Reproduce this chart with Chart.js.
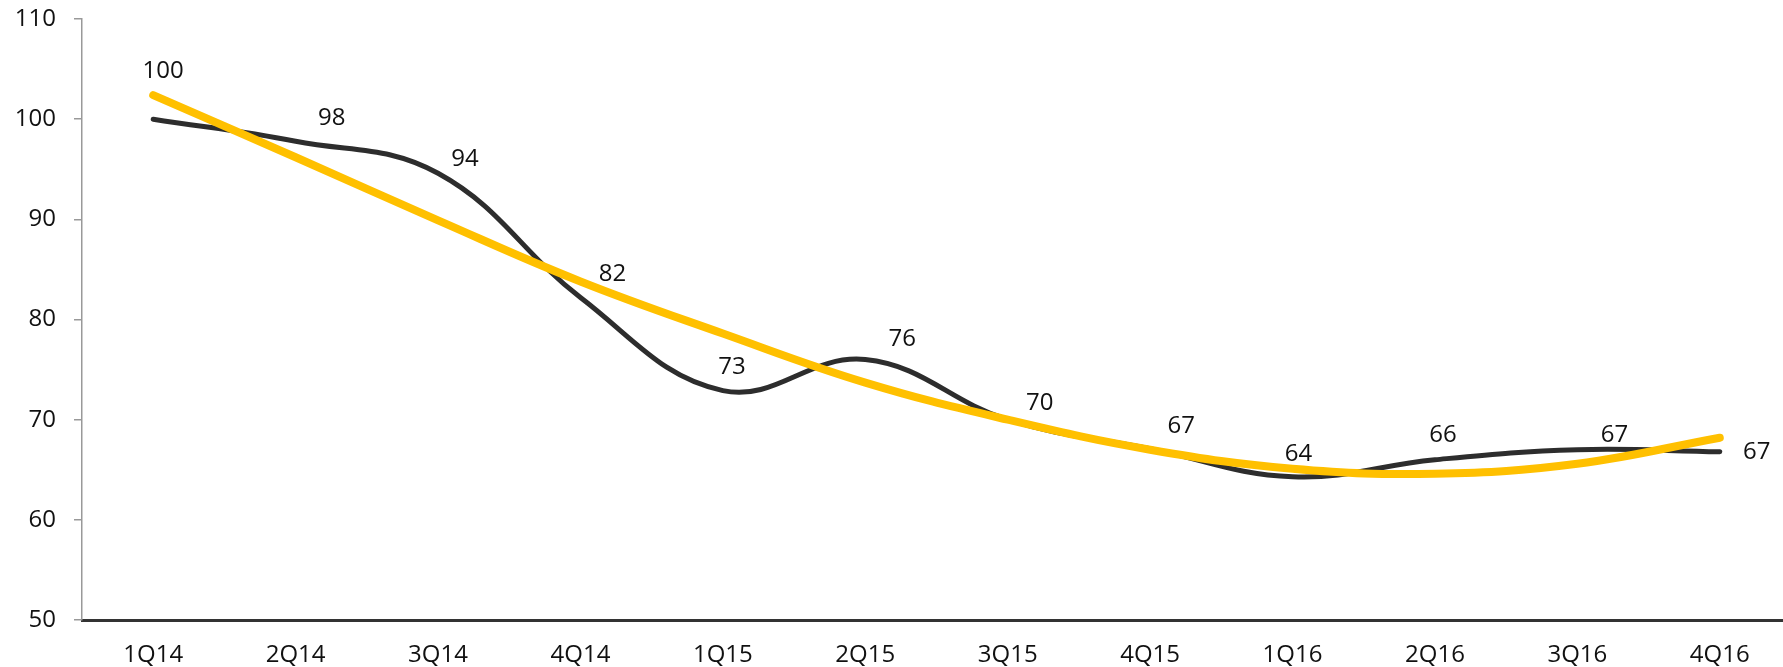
<!DOCTYPE html>
<html>
<head>
<meta charset="utf-8">
<script src="https://cdn.jsdelivr.net/npm/chart.js@4/dist/chart.umd.min.js"></script>
<style>
  html, body { margin:0; padding:0; background:#fff; overflow:hidden; }
  #wrap { width:1791px; height:667px; position:relative; }
</style>
</head>
<body>
<div id="wrap"><canvas id="chart"></canvas></div>
<script>
// Quarters on the x axis
const quarters = ['1Q14','2Q14','3Q14','4Q14','1Q15','2Q15','3Q15','4Q15','1Q16','2Q16','3Q16','4Q16'];

// Index (black line)
const indexValues = [100, 97.8, 94.6, 82.2, 72.9, 76.0, 70.0, 67.1, 64.3, 66.0, 67.0, 66.8];

// Trend (yellow line)
const trendValues = [102.4, 96.2, 89.9, 83.8, 78.6, 73.7, 70.0, 67.0, 65.1, 64.6, 65.6, 68.2];

// Labels shown above the black line
const indexLabels = ['100','98','94','82','73','76','70','67','64','66','67','67'];

const yTicks = [50, 60, 70, 80, 90, 100, 110];

// label offsets from each point (px)
const labelOffsets = [[10,-48],[36,-23],[27,-14],[32,-23],[9,-23],[37,-20],[32,-17],[31,-23],[6,-23],[8,-25],[37,-15],[37,0]];

const FONT = "'Open Sans', 'DejaVu Sans', sans-serif";

const pointLabels = {
    id: 'pointLabels',
    afterDatasetsDraw(chart) {
        const meta = chart.getDatasetMeta(1);
        const ctx = chart.ctx;
        ctx.save();
        ctx.font = '24px ' + FONT;
        ctx.fillStyle = '#111';
        ctx.textAlign = 'center';
        ctx.textBaseline = 'middle';
        meta.data.forEach((pt, i) => {
            const off = labelOffsets[i];
            ctx.fillText(indexLabels[i], pt.x + off[0], pt.y + off[1]);
        });
        ctx.restore();
    }
};

new Chart(document.getElementById('chart'), {
    type: 'line',
    data: {
        labels: quarters,
        datasets: [
            {
                label: 'Trend',
                data: trendValues,
                borderColor: '#FFC000',
                borderWidth: 8,
                borderCapStyle: 'round',
                pointRadius: 0,
                tension: 0.4,
                order: 0
            },
            {
                label: 'Index',
                data: indexValues,
                borderColor: '#2d2d2d',
                borderWidth: 5,
                borderCapStyle: 'round',
                pointRadius: 0,
                tension: 0.4,
                order: 1
            }
        ]
    },
    options: {
        responsive: true,
        maintainAspectRatio: false,
        animation: false,
        layout: { padding: { top: 19, right: 0, left: 0, bottom: 0 } },
        plugins: { legend: { display: false }, tooltip: { enabled: false } },
        scales: {
            x: {
                offset: true,
                grid: { display: false },
                border: { color: '#333', width: 3 },
                ticks: { color: '#111', font: { family: FONT, size: 24 }, padding: 13, maxRotation: 0 },
                afterFit(s) { s.height = 47; }
            },
            y: {
                min: 50, max: 110,
                afterBuildTicks(s) { s.ticks = yTicks.map(v => ({ value: v })); },
                grid: { drawOnChartArea: false, drawTicks: true, tickLength: 8, color: '#999', lineWidth: 1.5 },
                border: { color: '#999', width: 1.5 },
                ticks: { color: '#111', font: { family: FONT, size: 24 }, padding: 18 },
                afterFit(s) { s.width = 82; s.paddingTop = 0; s.paddingBottom = 0; }
            }
        }
    },
    plugins: [pointLabels]
});
</script>
</body>
</html>
